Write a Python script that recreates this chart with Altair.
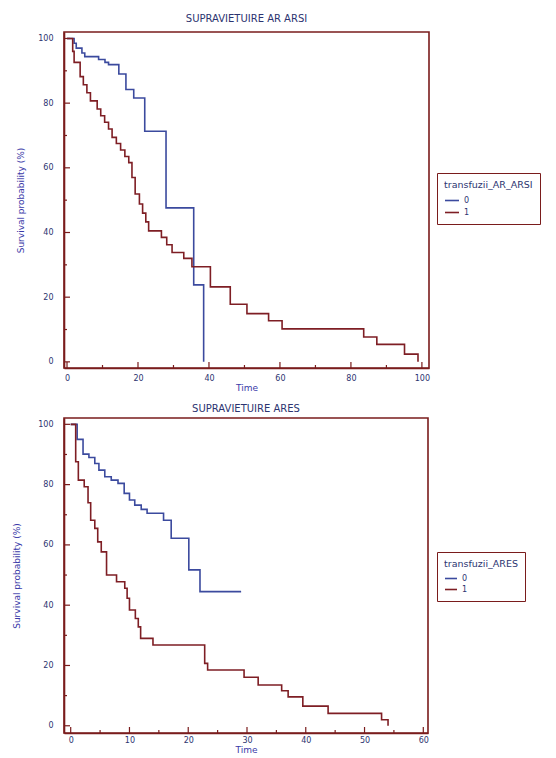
import altair as alt
import pandas as pd

# ---------------- data ----------------
# Top panel: SUPRAVIETUIRE AR ARSI
top_time_0 = [0, 2.0, 2.6, 4.2, 5.0, 8.9, 10.7, 11.7, 14.6, 16.6, 18.8, 21.9, 27.9, 35.7, 38.5]
top_surv_0 = [100, 98.5, 97, 95.5, 94.4, 93.5, 92.6, 91.9, 89, 84.2, 81.6, 71.3, 47.6, 23.8, 0]
top_time_1 = [0, 1.6, 2.0, 3.7, 4.6, 5.6, 6.6, 8.5, 9.5, 10.6, 11.7, 12.7, 13.9, 15.1, 16.3,
              17.4, 18.3, 19.2, 20.4, 21.3, 22.2, 23.0, 26.6, 28.1, 29.6, 32.9, 35.2, 40.4,
              46.0, 50.7, 56.8, 60.6, 83.6, 87.3, 95.1, 98.9]
top_surv_1 = [100, 96, 92.6, 88.2, 85.7, 83.2, 80.7, 78.2, 76.1, 74.1, 72, 69.4, 67.5, 65.5, 63.5,
              61.6, 57, 51.9, 48.8, 46, 43.3, 40.5, 38.5, 36.2, 33.8, 32, 29.4, 23.2,
              17.8, 14.9, 12.7, 10.2, 7.7, 5.4, 2.4, 0]

# Bottom panel: SUPRAVIETUIRE ARES
bot_time_0 = [0, 1.1, 2.1, 3.1, 4.1, 4.8, 5.8, 6.9, 8.05, 9.1, 10.0, 10.9, 12.0, 13.0, 15.8,
              17.1, 20.1, 22.0, 29.0]
bot_surv_0 = [100, 95, 90.1, 89, 87, 84.8, 82.6, 81.5, 80.4, 77.1, 74.9, 73.2, 71.8, 70.5, 68.2,
              62.2, 51.7, 44.5, 44.5]
bot_time_1 = [0, 0.85, 1.3, 2.3, 2.95, 3.4, 4.1, 4.6, 5.2, 6.1, 7.8, 9.2, 9.6, 10.0, 11.0, 11.5,
              11.9, 14.0, 22.8, 23.3, 29.5, 31.9, 35.9, 37.0, 39.5, 43.8, 52.9, 54.0]
bot_surv_1 = [100, 87.6, 81.5, 79.3, 74, 68.2, 65.5, 61, 57.7, 50, 47.8, 45.6, 42.3, 38.4, 35.6, 32.8,
              29, 26.8, 20.7, 18.5, 16.1, 13.5, 11.6, 9.6, 6.5, 4.1, 2.0, 0]

groups = ["0", "1"]
titles = ["SUPRAVIETUIRE AR ARSI", "SUPRAVIETUIRE ARES"]
legend_titles = ["transfuzii_AR_ARSI", "transfuzii_ARES"]

top_x_major = [0, 20, 40, 60, 80, 100]
top_x_minor = [10, 30, 50, 70, 90]
bot_x_major = [0, 10, 20, 30, 40, 50, 60]
bot_x_minor = [5, 15, 25, 35, 45, 55]
y_major = [0, 20, 40, 60, 80, 100]
y_minor = [10, 30, 50, 70, 90]

BLUE = "#3b4a9e"
RED = "#7e1e24"
FRAME = "#7a1c1c"
TXT = "#2c3470"
FONT = "DejaVu Sans"


def km_frame(t0, s0, t1, s1):
    return pd.concat([
        pd.DataFrame({"Time": t0, "Survival": s0, "group": groups[0]}),
        pd.DataFrame({"Time": t1, "Survival": s1, "group": groups[1]}),
    ], ignore_index=True)


def panel(df, title, leg_title, xdomain, ydomain, xmaj, xmin, w, h,
          title_offset, lab_pad_x, ytitle_pad, leg_x, leg_y, row_pad, sym_size):
    xs = alt.Scale(domain=xdomain, nice=False, zero=False)
    ys = alt.Scale(domain=ydomain, nice=False, zero=False)
    xaxis = alt.Axis(values=xmaj, title="Time", ticks=False, tickSize=0, grid=False,
                     labelPadding=lab_pad_x, titlePadding=1, labelFlush=False)
    yaxis = alt.Axis(values=y_major, title="Survival probability (%)", ticks=False, tickSize=0,
                     grid=False, labelPadding=11, titlePadding=ytitle_pad, labelFlush=False)

    lines = alt.Chart(df).mark_line(interpolate="step-after", strokeWidth=1.6).encode(
        x=alt.X("Time:Q", scale=xs, axis=xaxis),
        y=alt.Y("Survival:Q", scale=ys, axis=yaxis),
        color=alt.Color("group:N", scale=alt.Scale(domain=groups, range=[BLUE, RED]),
                        legend=alt.Legend(title=leg_title, orient="none", legendX=leg_x,
                                          legendY=leg_y, padding=7, rowPadding=row_pad,
                                          strokeColor=FRAME, fillColor="white",
                                          symbolType="stroke", symbolSize=sym_size,
                                          symbolStrokeWidth=1.6, titleFontSize=9.5,
                                          labelFontSize=8, titleFontWeight="normal",
                                          titleColor=TXT, labelColor=TXT, titleFont=FONT,
                                          labelFont=FONT, titlePadding=3)),
    )

    def xticks(vals, ln):
        return alt.Chart(pd.DataFrame({"Time": vals})).mark_rule(color=FRAME, strokeWidth=1.2).encode(
            x=alt.X("Time:Q", scale=xs, axis=xaxis),
            y=alt.value(h), y2=alt.value(h - ln))

    def yticks(vals, ln):
        return alt.Chart(pd.DataFrame({"Survival": vals})).mark_rule(color=FRAME, strokeWidth=1.2).encode(
            y=alt.Y("Survival:Q", scale=ys, axis=yaxis),
            x=alt.value(0), x2=alt.value(ln))

    return alt.layer(
        xticks(xmaj, 6), xticks(xmin, 3), yticks(y_major, 6), yticks(y_minor, 3), lines
    ).properties(
        width=w, height=h,
        title=alt.TitleParams(title, offset=title_offset, fontWeight="normal", fontSize=10,
                              font=FONT, color=TXT, anchor="middle"),
    )


top = panel(km_frame(top_time_0, top_surv_0, top_time_1, top_surv_1), titles[0], legend_titles[0],
            [-0.85, 102], [-1.9, 102], top_x_major, top_x_minor, 365, 336,
            8, 6, 12, 373, 141, 0, 196)
bottom = panel(km_frame(bot_time_0, bot_surv_0, bot_time_1, bot_surv_1), titles[1], legend_titles[1],
               [-1.14, 60.8], [-2.4, 102.1], bot_x_major, bot_x_minor, 364, 315,
               4, 3, 16, 373, 134, -2, 144)

chart = alt.vconcat(top, bottom, spacing=10).resolve_scale(
    color="independent").resolve_legend(color="independent").properties(
    padding={"left": 3, "top": 5, "right": 5, "bottom": 5}).configure_view(
    stroke=FRAME, strokeWidth=1.6).configure_axis(
    domainColor=FRAME, domainWidth=1.6, labelFont=FONT, labelFontSize=8, labelColor=TXT,
    titleFont=FONT, titleFontSize=9, titleColor="#3a3aa8", titleFontWeight="normal")

chart.save("out.html", embed_options={"renderer": "svg", "actions": False})
